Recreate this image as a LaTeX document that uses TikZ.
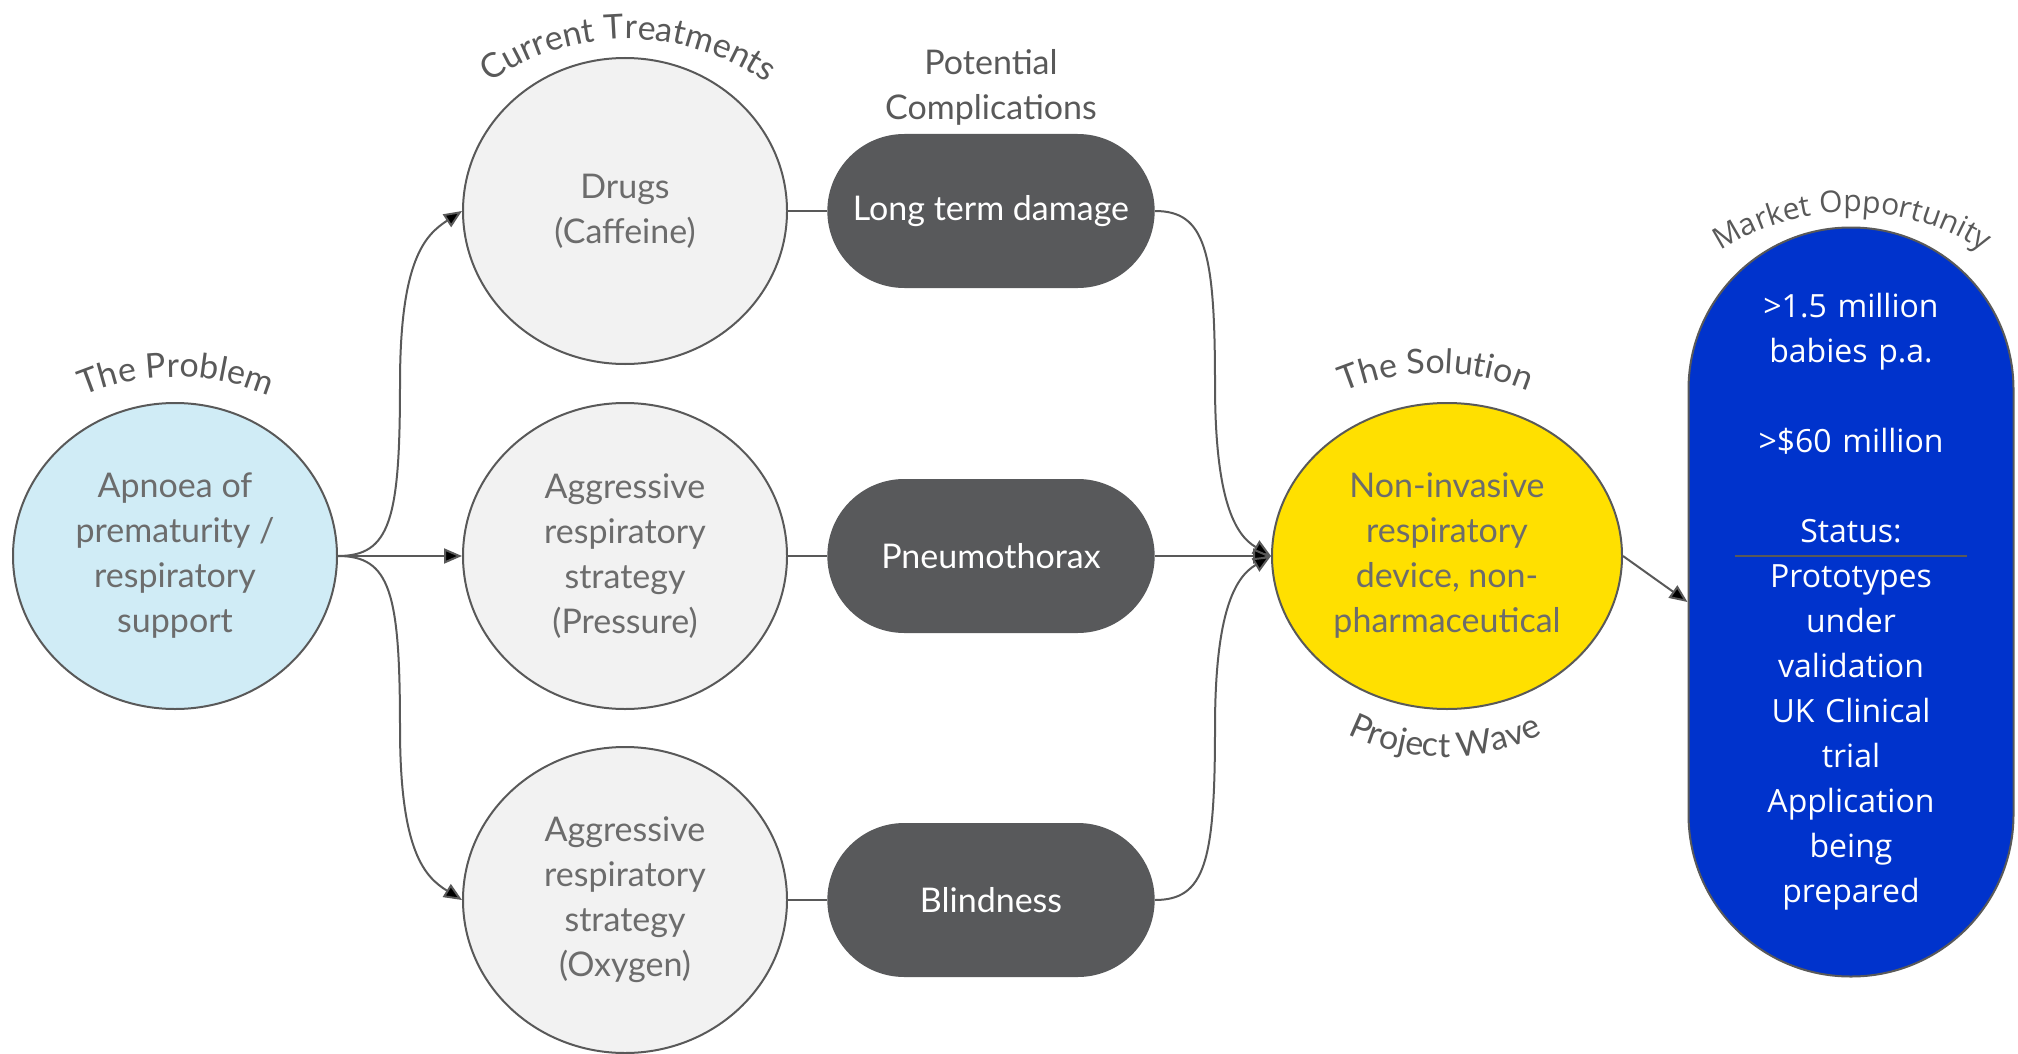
\documentclass[tikz,border=0pt]{standalone}
\usepackage{fontspec}
\setmainfont{Lato}
\newfontfamily\mktfont{Open Sans}
\usetikzlibrary{shapes.geometric,shapes.misc,arrows.meta,decorations.text}
\definecolor{edgegray}{RGB}{89,89,89}
\definecolor{txtgray}{RGB}{108,108,108}
\definecolor{probblue}{RGB}{208,236,246}
\definecolor{treatgray}{RGB}{242,242,242}
\definecolor{compgray}{RGB}{88,89,91}
\definecolor{solyellow}{RGB}{255,224,0}
\definecolor{mktblue}{RGB}{0,51,204}
\newcommand{\toplabel}[4]{\path[decorate,decoration={text along path,text align=center,text color=edgegray,text={|#4|#3}}] (#1,#2) ++(130:240) arc[start angle=130,end angle=50,radius=240];}

\begin{document}
\begin{tikzpicture}[x=1pt,y=1pt,
  circ/.style={ellipse,draw=edgegray,line width=2pt,minimum width=324pt,minimum height=306pt,inner sep=0pt,align=center,text=txtgray,font=\fontsize{34}{45}\selectfont},
  comp/.style={rounded rectangle,fill=compgray,minimum width=334pt,minimum height=154pt,text=white,font=\fontsize{34}{45}\selectfont},
  link/.style={draw=edgegray,line width=2pt},
  arr/.style={link,-{Triangle[length=18pt,width=15pt]}}]
\useasboundingbox (0,0) rectangle (2018,-1054);

\node [circ,fill=probblue] (prob) at (175,-556) {Apnoea of\\prematurity /\\respiratory\\support};
\node [circ,fill=treatgray] (tr1) at (625,-211) {Drugs\\(Caffeine)};
\node [circ,fill=treatgray] (tr2) at (625,-556) {Aggressive\\respiratory\\strategy\\(Pressure)};
\node [circ,fill=treatgray] (tr3) at (625,-900) {Aggressive\\respiratory\\strategy\\(Oxygen)};
\node [comp] (cp1) at (991,-211) {Long term damage};
\node [comp] (cp2) at (991,-556) {Pneumothorax};
\node [comp] (cp3) at (991,-900) {Blindness};
\node [circ,fill=solyellow,minimum width=350pt] (sol) at (1447,-556) {Non-invasive\\respiratory\\device, non-\\pharmaceutical};
\node [rectangle,rounded corners=162pt,draw=edgegray,line width=2pt,fill=mktblue,minimum width=325pt,minimum height=749pt,
  text width=300pt,align=center,text=white,font=\mktfont\fontsize{32}{45}\selectfont] (mkt) at (1851,-602)
  {>1.5 million\\babies p.a.\\[45pt]>\$60 million\\[45pt]Status:\\Prototypes\\under\\validation\\UK Clinical\\trial\\Application\\being\\prepared};
\draw [draw=edgegray,line width=1.2pt] ([xshift=-116pt,yshift=46pt]mkt.center) -- ([xshift=116pt,yshift=46pt]mkt.center);

\node [align=center,text=edgegray,font=\fontsize{34}{45}\selectfont] (pc) at (991,-87) {Potential\\Complications};
\toplabel{176}{-617}{The Problem}{\fontsize{34}{40}\selectfont}
\toplabel{628}{-279}{Current Treatments}{\fontsize{34}{40}\selectfont}
\toplabel{1436}{-613}{The Solution}{\fontsize{34}{40}\selectfont}
\toplabel{1852}{-452}{Market Opportunity}{\mktfont\fontsize{30}{36}\selectfont}
\path [decorate,decoration={text along path,text align=center,text color=edgegray,text={|\fontsize{34}{40}\selectfont|Project Wave}}]
  (1445,-537) ++(205:220) arc[start angle=205,end angle=335,radius=220];

\draw [arr] (prob.east) .. controls (390,-556) and (400,-520) .. (400,-384) .. controls (400,-260) and (425,-235) .. (tr1.west);
\draw [arr] (prob.east) -- (tr2.west);
\draw [arr] (prob.east) .. controls (390,-556) and (400,-592) .. (400,-728) .. controls (400,-852) and (425,-877) .. (tr3.west);
\draw [link] (tr1.east) -- (cp1.west);
\draw [link] (tr2.east) -- (cp2.west);
\draw [link] (tr3.east) -- (cp3.west);
\draw [arr] (cp1.east) .. controls (1205,-211) and (1215,-250) .. (1215,-384) .. controls (1215,-500) and (1235,-535) .. (sol.west);
\draw [arr] (cp2.east) -- (sol.west);
\draw [arr] (cp3.east) .. controls (1205,-900) and (1215,-862) .. (1215,-728) .. controls (1215,-612) and (1235,-577) .. (sol.west);
\draw [arr] (sol.east) -- (mkt.west);
\end{tikzpicture}
\end{document}
